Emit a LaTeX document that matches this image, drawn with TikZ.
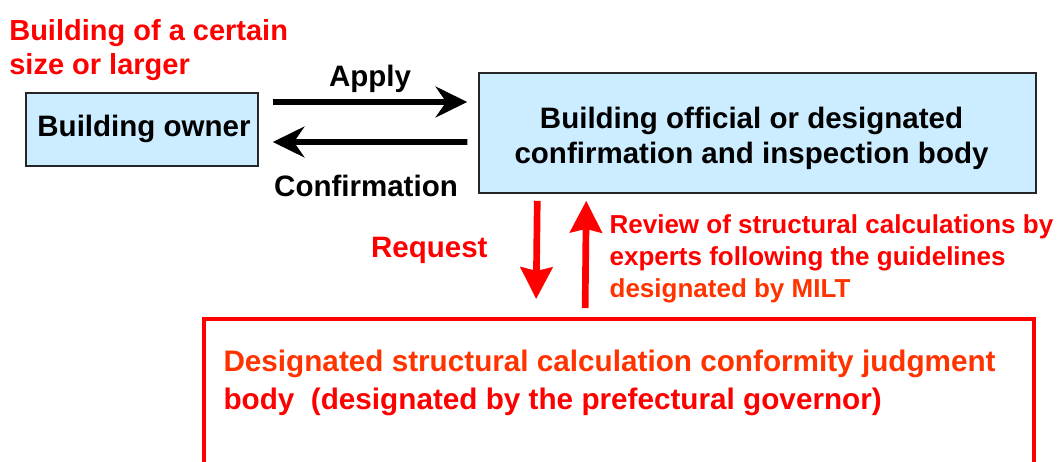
\documentclass[tikz,border=0pt]{standalone}
\usepackage{fontspec}
\setmainfont{Liberation Sans}
\usetikzlibrary{arrows.meta,positioning}
\definecolor{boxblue}{HTML}{CCECFF}
\definecolor{orangered}{HTML}{FF3300}

\tikzset{
    bluebox/.style={draw=black!85,line width=0.9pt,fill=boxblue,inner sep=0pt},
    redbox/.style={draw=red,line width=2.2pt,inner sep=0pt},
    flowarrow/.style={line width=3.4pt,-{Stealth[length=18pt,width=17.5pt,inset=6pt]}},
    redarrow/.style={red,line width=3.8pt,-{Stealth[length=18pt,width=18pt,inset=2pt]}},
    note/.style={inner sep=0pt,align=left,anchor=north west}
}

\begin{document}
\begin{tikzpicture}[x=0.02cm,y=-0.02cm,font=\fontsize{16.8}{20}\selectfont\bfseries]
        % fix the frame
        \useasboundingbox (0,0) rectangle (1059,462);
        \clip (0,0) rectangle (1059,462);

        % draw the boxes
        \node[bluebox,minimum width=4.64cm,minimum height=1.46cm] (owner) at (142,129.5) {};
        \node[inner sep=0pt] (ownertext) at ([shift={(2,-1)}]owner.center) {Building owner};
        \node[bluebox,minimum width=11.14cm,minimum height=2.4cm] (official) at (757.5,133) {};
        \node[align=center,inner sep=0pt] (officialtext) at ([shift={(-6,5)}]official.center)
                {Building official or designated\\confirmation and inspection body};
        \node[redbox,minimum width=16.6cm,minimum height=3.6cm] (judge) at (619,409) {};

        % draw the notes
        \node[note,text=red,font=\fontsize{16.5}{19.3}\selectfont\bfseries] (size) at (9,19)
                {Building of a certain\\size or larger};
        \node[note,font=\fontsize{14.8}{18}\selectfont\bfseries] (review) at ([shift={(131,21)}]official.south west)
                {\color{red}Review of structural calculations by\\\color{red}experts following the guidelines\\\color{orangered}designated by MILT};
        \node[note,font=\fontsize{16.9}{21.6}\selectfont\bfseries] (judgetext) at ([shift={(21,33)}]judge.north west)
                {\color{orangered}Designated structural calculation conformity judgment\\\color{red}body\ \ (designated by the prefectural governor)};

        % draw the arrows
        \draw[flowarrow] ([shift={(14,-27.5)}]owner.east) -- ([shift={(-11,-31)}]official.west)
                node[midway,yshift=0.46cm] (apply) {Apply};
        \draw[flowarrow] ([shift={(-11,9)}]official.west) -- ([shift={(14,12.5)}]owner.east)
                node[midway,yshift=-0.88cm,xshift=-0.08cm] (confirm) {Confirmation};
        \draw[redarrow] ([shift={(59,7)}]official.south west) -- ([shift={(334,-18)}]judge.north west)
                node[midway,left=0.8cm,text=red] (request) {Request};
        \draw[redarrow] ([shift={(383,-9)}]judge.north west) -- ([shift={(108,7)}]official.south west);
\end{tikzpicture}
\end{document}
